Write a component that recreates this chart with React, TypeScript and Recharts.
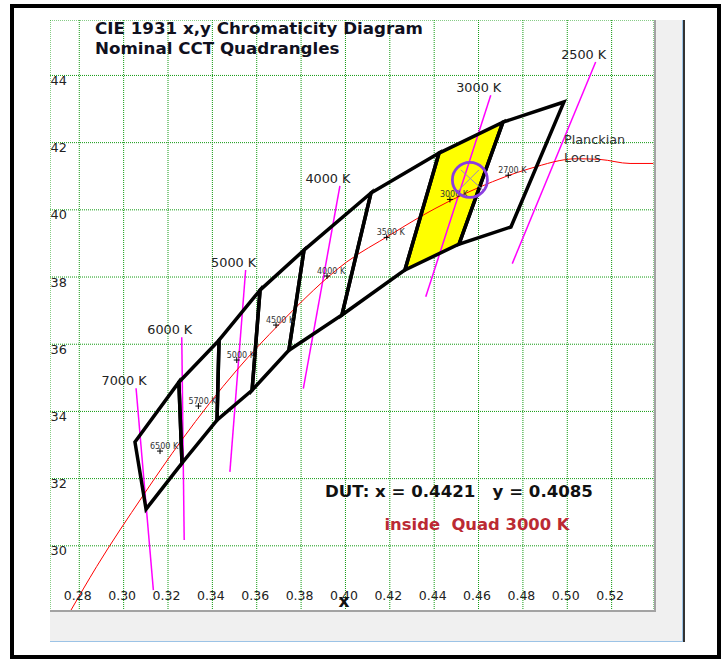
import { CartesianGrid, Scatter, ScatterChart, XAxis, YAxis } from "recharts";

const FONT = "'DejaVu Sans', sans-serif";

const X_TICKS = [0.28, 0.3, 0.32, 0.34, 0.36, 0.38, 0.4, 0.42, 0.44, 0.46, 0.48, 0.5, 0.52];
const Y_TICKS = [0.3, 0.32, 0.34, 0.36, 0.38, 0.4, 0.42, 0.44];
const X_DOMAIN = [0.2668, 0.5391];
const Y_DOMAIN = [0.2806, 0.4565];

// nominal CCT quadrangles, corners (upper-left, upper-right, lower-right, lower-left)
const QUAD_CCT = [6500, 5700, 5000, 4500, 4000, 3500, 3000, 2700];
const QUAD_X = [
  [0.3051, 0.3249, 0.3263, 0.3101],
  [0.3249, 0.343, 0.3421, 0.3263],
  [0.343, 0.3615, 0.3579, 0.3421],
  [0.3615, 0.3813, 0.3745, 0.3579],
  [0.3813, 0.4115, 0.3984, 0.3745],
  [0.4115, 0.4422, 0.4268, 0.3984],
  [0.4422, 0.471, 0.4512, 0.4268],
  [0.471, 0.4985, 0.4746, 0.4512],
];
const QUAD_Y = [
  [0.3309, 0.3487, 0.3246, 0.3109],
  [0.3487, 0.3612, 0.3374, 0.3246],
  [0.3612, 0.3761, 0.3463, 0.3374],
  [0.3761, 0.388, 0.3582, 0.3463],
  [0.388, 0.405, 0.3687, 0.3582],
  [0.405, 0.4169, 0.3821, 0.3687],
  [0.4169, 0.4261, 0.3898, 0.3821],
  [0.4261, 0.4321, 0.3949, 0.3898],
];
const SELECTED_CCT = 3000;

// planckian locus
const LOCUS_X = [0.2763, 0.2878, 0.3089, 0.3262, 0.351, 0.3705, 0.4006, 0.4201, 0.4336, 0.4606, 0.4832, 0.5042, 0.5147, 0.5283, 0.5388];
const LOCUS_Y = [0.2809, 0.2938, 0.3151, 0.3315, 0.3523, 0.3662, 0.3845, 0.3925, 0.3979, 0.4068, 0.4123, 0.4152, 0.415, 0.4138, 0.4138];

// isotemperature lines
const ISO_LABELS = ["7000 K", "6000 K", "5000 K", "4000 K", "3000 K", "2500 K"];
const ISO_TOP_X = [0.3056, 0.3262, 0.355, 0.3975, 0.4655, 0.5128];
const ISO_TOP_Y = [0.3469, 0.3621, 0.3821, 0.4071, 0.4341, 0.444];
const ISO_BOTTOM_X = [0.3134, 0.3273, 0.3479, 0.381, 0.4362, 0.4752];
const ISO_BOTTOM_Y = [0.2868, 0.3017, 0.322, 0.3468, 0.3741, 0.384];

// nominal points on the locus
const POINT_LABELS = ["6500 K", "5700 K", "5000 K", "4500 K", "4000 K", "3500 K", "3000 K", "2700 K"];
const POINT_X = [0.3164, 0.3337, 0.351, 0.3687, 0.3917, 0.4186, 0.4471, 0.4734];
const POINT_Y = [0.3282, 0.3416, 0.3553, 0.3657, 0.3803, 0.3918, 0.4031, 0.4103];

// device under test: marker position as drawn, and the reading printed
const DUT_MARK = [{ x: 0.4561, y: 0.4089 }];
const DUT_READING = { x: "0.4421", y: "0.4085" };

const blank = () => <g />;

const quadLine = (fill: string, stroke: string) => (props: any) => {
  const pts = (props.points ?? []).map((p: any) => `${p.x},${p.y}`).join(" ");
  return <polygon points={pts} fill={fill} stroke={stroke} strokeWidth={3.5} strokeLinejoin="miter" />;
};

const quadData = (i: number) => QUAD_X[i].map((x, k) => ({ x, y: QUAD_Y[i][k] }));

const IsoLabel = (p: any) =>
  p.payload?.label ? (
    <text x={p.cx - 12} y={p.cy - 3} textAnchor="middle" fontSize={12.8} fill="#222" fontFamily={FONT}>
      {p.payload.label}
    </text>
  ) : (
    <g />
  );

const PointMark = (p: any) => (
  <g>
    <text x={p.cx - 10} y={p.cy - 2.5} fontSize={8} fill="#333" fontFamily={FONT}>
      {p.payload.label}
    </text>
    <path d={`M${p.cx - 3},${p.cy}H${p.cx + 3}M${p.cx},${p.cy - 3}V${p.cy + 3}`} stroke="#000" strokeWidth={1} />
  </g>
);

const DutMark = (p: any) => (
  <g>
    <path
      d={`M${p.cx - 9},${p.cy - 10}L${p.cx + 14},${p.cy + 11}M${p.cx + 9},${p.cy - 10}L${p.cx - 13},${p.cy + 12}`}
      stroke="#9b86c4"
      strokeWidth={1}
    />
    <circle cx={p.cx} cy={p.cy} r={17.5} fill="none" stroke="#8a3ee0" strokeWidth={2.8} />
  </g>
);

const XTick = (p: any) => (
  <text x={p.x - 1.5} y={580} textAnchor="middle" fontSize={12.5} fill="#222" fontFamily={FONT}>
    {Number(p.payload.value).toFixed(2)}
  </text>
);

const YTick = (p: any) => (
  <text x={0.5} y={p.y + 9.5} textAnchor="start" fontSize={12.8} fill="#222" fontFamily={FONT}>
    {Math.round(Number(p.payload.value) * 100)}
  </text>
);

export default function App() {
  const selected = QUAD_CCT.indexOf(SELECTED_CCT);
  const locus = LOCUS_X.map((x, i) => ({ x, y: LOCUS_Y[i] }));
  const points = POINT_X.map((x, i) => ({ x, y: POINT_Y[i], label: POINT_LABELS[i] }));

  return (
    <div style={{ position: "absolute", left: 0, top: 0, width: 721, height: 659, background: "#fff", overflow: "hidden" }}>
      <div style={{ position: "absolute", left: 10, top: 4, width: 711, height: 655, border: "4px solid #000", boxSizing: "border-box" }} />
      <div style={{ position: "absolute", left: 654, top: 20, width: 28, height: 622, background: "#f0f0f0" }} />
      <div style={{ position: "absolute", left: 682, top: 20, width: 1, height: 622, background: "#9cc3e6" }} />
      <div style={{ position: "absolute", left: 683, top: 20, width: 1.5, height: 622, background: "#333" }} />
      <div style={{ position: "absolute", left: 50, top: 611, width: 632, height: 30, background: "#f0f0f0" }} />
      <div style={{ position: "absolute", left: 50, top: 641, width: 632, height: 1, background: "#9cc3e6" }} />

      <div style={{ position: "absolute", left: 50, top: 20, width: 604, height: 591 }}>
        <ScatterChart width={604} height={591} margin={{ top: 0, right: 0, bottom: 0, left: 0 }}>
          <CartesianGrid stroke="#119a11" strokeDasharray="1 1" />
          <XAxis
            type="number"
            dataKey="x"
            domain={X_DOMAIN}
            ticks={X_TICKS}
            interval={0}
            allowDataOverflow
            mirror
            axisLine={false}
            tickLine={false}
            tick={XTick}
          />
          <YAxis
            type="number"
            dataKey="y"
            domain={Y_DOMAIN}
            ticks={Y_TICKS}
            interval={0}
            allowDataOverflow
            mirror
            axisLine={false}
            tickLine={false}
            tick={YTick}
          />
          <Scatter data={quadData(selected)} line={quadLine("#ffff00", "none")} shape={blank} isAnimationActive={false} />
          {ISO_LABELS.map((label, i) => (
            <Scatter
              key={label}
              data={[
                { x: ISO_TOP_X[i], y: ISO_TOP_Y[i], label },
                { x: ISO_BOTTOM_X[i], y: ISO_BOTTOM_Y[i] },
              ]}
              line={{ stroke: "#ff00ff", strokeWidth: 1.5 }}
              shape={IsoLabel}
              isAnimationActive={false}
            />
          ))}
          <Scatter
            data={locus}
            line={{ stroke: "#ff0000", strokeWidth: 1 }}
            lineJointType="monotoneX"
            shape={blank}
            isAnimationActive={false}
          />
          {QUAD_CCT.map((cct, i) => (
            <Scatter key={cct} data={quadData(i)} line={quadLine("none", "#000")} shape={blank} isAnimationActive={false} />
          ))}
          <Scatter data={points} shape={PointMark} isAnimationActive={false} />
          <Scatter data={DUT_MARK} shape={DutMark} isAnimationActive={false} />
        </ScatterChart>
      </div>

      <div style={{ position: "absolute", left: 654, top: 20, width: 2, height: 592, background: "#a3a3a3" }} />
      <div style={{ position: "absolute", left: 50, top: 610, width: 606, height: 2, background: "#a3a3a3" }} />

      <svg width={721} height={659} style={{ position: "absolute", left: 0, top: 0, pointerEvents: "none" }}>
        <g fontFamily={FONT}>
          <text x={95} y={34} fontSize={16.7} fontWeight="bold" fill="#10101e">
            CIE 1931 x,y Chromaticity Diagram
          </text>
          <text x={95} y={54} fontSize={16.7} fontWeight="bold" fill="#10101e">
            Nominal CCT Quadrangles
          </text>
          <text x={564} y={143.5} fontSize={12.8} fill="#333">
            Planckian
          </text>
          <text x={564} y={161.5} fontSize={12.8} fill="#333">
            Locus
          </text>
          <text x={325} y={496.5} fontSize={16.6} fontWeight="bold" fill="#111" xmlSpace="preserve">
            {`DUT: x = ${DUT_READING.x}   y = ${DUT_READING.y}`}
          </text>
          <text x={384.5} y={529.5} fontSize={16.4} fontWeight="bold" fill="#bb2a33" xmlSpace="preserve">
            {`inside  Quad ${SELECTED_CCT} K`}
          </text>
          <text x={344} y={607} textAnchor="middle" fontSize={17} fontWeight="bold" fill="#111">
            x
          </text>
        </g>
      </svg>
    </div>
  );
}
